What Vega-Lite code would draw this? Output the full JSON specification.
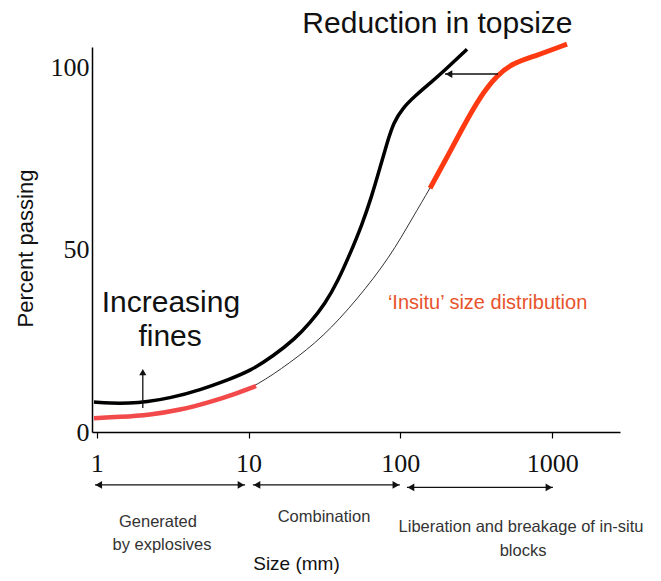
{
  "$schema": "https://vega.github.io/schema/vega-lite/v6.json",
  "autosize": "none",
  "width": 528,
  "height": 385,
  "padding": {"left": 92, "top": 47, "right": 41, "bottom": 149},
  "background": "white",
  "config": {"view": {"stroke": null}},
  "datasets": {
    "curves": [
      {"series": "Blasted", "size": 0.958, "pct": 8.2},
      {"series": "Blasted", "size": 1.22, "pct": 7.9},
      {"series": "Blasted", "size": 1.65, "pct": 7.9},
      {"series": "Blasted", "size": 2.11, "pct": 8.2},
      {"series": "Blasted", "size": 3.04, "pct": 9.3},
      {"series": "Blasted", "size": 4.79, "pct": 11.5},
      {"series": "Blasted", "size": 7.53, "pct": 14.5},
      {"series": "Blasted", "size": 10.2, "pct": 16.7},
      {"series": "Blasted", "size": 14.5, "pct": 20.8},
      {"series": "Blasted", "size": 20.2, "pct": 25.5},
      {"series": "Blasted", "size": 25.4, "pct": 29.9},
      {"series": "Blasted", "size": 31.9, "pct": 35.1},
      {"series": "Blasted", "size": 38.8, "pct": 41.4},
      {"series": "Blasted", "size": 46.6, "pct": 48.8},
      {"series": "Blasted", "size": 55.8, "pct": 56.7},
      {"series": "Blasted", "size": 64.9, "pct": 64.7},
      {"series": "Blasted", "size": 73.3, "pct": 72.3},
      {"series": "Blasted", "size": 81.7, "pct": 79.2},
      {"series": "Blasted", "size": 90.4, "pct": 84.9},
      {"series": "Blasted", "size": 103.8, "pct": 88.8},
      {"series": "Blasted", "size": 125, "pct": 92.1},
      {"series": "Blasted", "size": 157, "pct": 95.6},
      {"series": "Blasted", "size": 197, "pct": 99.2},
      {"series": "Blasted", "size": 275, "pct": 104.9},
      {"series": "Insitu", "size": 0.958, "pct": 3.8},
      {"series": "Insitu", "size": 1.42, "pct": 4.1},
      {"series": "Insitu", "size": 2.24, "pct": 4.7},
      {"series": "Insitu", "size": 3.53, "pct": 6.0},
      {"series": "Insitu", "size": 5.57, "pct": 8.2},
      {"series": "Insitu", "size": 8.13, "pct": 10.4},
      {"series": "Insitu", "size": 11.2, "pct": 12.6},
      {"series": "Insitu", "size": 18.7, "pct": 18.9},
      {"series": "Insitu", "size": 30.9, "pct": 26.0},
      {"series": "Insitu", "size": 51.7, "pct": 36.2},
      {"series": "Insitu", "size": 85.3, "pct": 47.9},
      {"series": "Insitu", "size": 121, "pct": 58.9},
      {"series": "Insitu", "size": 157, "pct": 66.8},
      {"series": "Insitu", "size": 203, "pct": 75.3},
      {"series": "Insitu", "size": 259, "pct": 83.6},
      {"series": "Insitu", "size": 334, "pct": 91.8},
      {"series": "Insitu", "size": 433, "pct": 97.8},
      {"series": "Insitu", "size": 552, "pct": 101.1},
      {"series": "Insitu", "size": 794, "pct": 103.2},
      {"series": "Insitu", "size": 1253, "pct": 106.3}
    ],
    "arrows": [
      {"x1": 440, "x2": 197, "y1": 98.1, "y2": 98.1},
      {"x1": 2.01, "x2": 2.01, "y1": 6.6, "y2": 16.5},
      {"x1": 0.973, "x2": 9.49, "y1": -14.5, "y2": -14.5},
      {"x1": 10.68, "x2": 99.3, "y1": -14.5, "y2": -14.5},
      {"x1": 110.5, "x2": 1012, "y1": -15.2, "y2": -15.2}
    ],
    "heads": [
      {"x": 209, "y": 98.1, "dir": "left"},
      {"x": 2.01, "y": 16.4, "dir": "up"},
      {"x": 1.03, "y": -14.5, "dir": "left"},
      {"x": 8.92, "y": -14.5, "dir": "right"},
      {"x": 11.36, "y": -14.5, "dir": "left"},
      {"x": 93.5, "y": -14.5, "dir": "right"},
      {"x": 117.5, "y": -15.2, "dir": "left"},
      {"x": 953, "y": -15.2, "dir": "right"}
    ],
    "bigText": [
      {"label": "Reduction in topsize", "x": 175.5, "y": 111.8},
      {"label": "Increasing", "x": 3.08, "y": 35.3},
      {"label": "fines", "x": 3.04, "y": 26.0}
    ],
    "smallText": [
      {"label": "Generated", "x": 2.53, "y": -24.7},
      {"label": "by explosives", "x": 2.69, "y": -31.0},
      {"label": "Combination", "x": 31.4, "y": -23.3},
      {"label": "Liberation and breakage of in-situ", "x": 624, "y": -26.0},
      {"label": "blocks", "x": 643, "y": -32.6}
    ],
    "insituText": [
      {"label": "‘Insitu’ size distribution", "x": 82.8, "y": 35.3}
    ]
  },
  "layer": [
    {
      "data": {"name": "curves"},
      "transform": [{"filter": "datum.series === 'Blasted'"}],
      "mark": {"type": "line", "interpolate": "basis", "color": "black", "strokeWidth": 3.5},
      "encoding": {
        "x": {
          "field": "size", "type": "quantitative",
          "scale": {"type": "log", "domain": [0.93, 2800], "nice": false},
          "axis": {
            "values": [1, 10, 100, 1000], "format": "d", "grid": false,
            "title": "Size (mm)", "titleFont": "Liberation Sans", "titleFontSize": 19, "titleFontWeight": "normal", "titleColor": "#111",
            "titleX": 204, "titleY": 131, "titleBaseline": "middle",
            "labelFont": "Liberation Serif", "labelFontSize": 26, "labelColor": "#111", "labelPadding": 12, "labelDx": 9,
            "domainColor": "black", "domainWidth": 1.5, "tickColor": "black", "tickSize": 6, "tickWidth": 1.2
          }
        },
        "y": {
          "field": "pct", "type": "quantitative",
          "scale": {"domain": [0, 105.5], "nice": false, "zero": true},
          "axis": {
            "values": [0, 50, 100], "grid": false, "ticks": false,
            "title": "Percent passing", "titleFont": "Liberation Sans", "titleFontSize": 22, "titleFontWeight": "normal", "titleColor": "#111",
            "titleX": -67, "titleY": 201, "titleBaseline": "middle", "titleAlign": "center",
            "labelFont": "Liberation Serif", "labelFontSize": 26, "labelColor": "#111", "labelPadding": 3,
            "domainColor": "black", "domainWidth": 1.5
          }
        }
      }
    },
    {
      "data": {"name": "curves"},
      "transform": [{"filter": "datum.series === 'Insitu'"}],
      "mark": {"type": "line", "interpolate": "basis", "color": "#333", "strokeWidth": 1},
      "encoding": {"x": {"field": "size", "type": "quantitative"}, "y": {"field": "pct", "type": "quantitative"}}
    },
    {
      "data": {"name": "curves"},
      "transform": [{"filter": "datum.series === 'Insitu' && datum.size <= 11.2"}],
      "mark": {"type": "line", "interpolate": "basis", "color": "#f24a4a", "strokeWidth": 4.5},
      "encoding": {"x": {"field": "size", "type": "quantitative"}, "y": {"field": "pct", "type": "quantitative"}}
    },
    {
      "data": {"name": "curves"},
      "transform": [{"filter": "datum.series === 'Insitu' && datum.size >= 157"}],
      "mark": {"type": "line", "interpolate": "basis", "color": "#ff3a12", "strokeWidth": 5},
      "encoding": {"x": {"field": "size", "type": "quantitative"}, "y": {"field": "pct", "type": "quantitative"}}
    },
    {
      "data": {"name": "arrows"},
      "mark": {"type": "rule", "color": "#111", "strokeWidth": 1.3},
      "encoding": {
        "x": {"field": "x1", "type": "quantitative"},
        "x2": {"field": "x2"},
        "y": {"field": "y1", "type": "quantitative"},
        "y2": {"field": "y2"}
      }
    },
    {
      "data": {"name": "heads"},
      "transform": [{"filter": "datum.dir === 'left'"}],
      "mark": {"type": "point", "shape": "triangle-left", "filled": true, "color": "#111", "size": 60, "opacity": 1},
      "encoding": {"x": {"field": "x", "type": "quantitative"}, "y": {"field": "y", "type": "quantitative"}}
    },
    {
      "data": {"name": "heads"},
      "transform": [{"filter": "datum.dir === 'right'"}],
      "mark": {"type": "point", "shape": "triangle-right", "filled": true, "color": "#111", "size": 60, "opacity": 1},
      "encoding": {"x": {"field": "x", "type": "quantitative"}, "y": {"field": "y", "type": "quantitative"}}
    },
    {
      "data": {"name": "heads"},
      "transform": [{"filter": "datum.dir === 'up'"}],
      "mark": {"type": "point", "shape": "triangle-up", "filled": true, "color": "#111", "size": 50, "opacity": 1},
      "encoding": {"x": {"field": "x", "type": "quantitative"}, "y": {"field": "y", "type": "quantitative"}}
    },
    {
      "data": {"name": "bigText"},
      "mark": {"type": "text", "font": "Liberation Sans", "fontSize": 30, "color": "#111", "align": "center", "baseline": "middle"},
      "encoding": {"x": {"field": "x", "type": "quantitative"}, "y": {"field": "y", "type": "quantitative"}, "text": {"field": "label"}}
    },
    {
      "data": {"name": "smallText"},
      "mark": {"type": "text", "font": "Liberation Sans", "fontSize": 16.5, "color": "#333", "align": "center", "baseline": "middle"},
      "encoding": {"x": {"field": "x", "type": "quantitative"}, "y": {"field": "y", "type": "quantitative"}, "text": {"field": "label"}}
    },
    {
      "data": {"name": "insituText"},
      "mark": {"type": "text", "font": "Liberation Sans", "fontSize": 20, "color": "#e8532c", "align": "left", "baseline": "middle"},
      "encoding": {"x": {"field": "x", "type": "quantitative"}, "y": {"field": "y", "type": "quantitative"}, "text": {"field": "label"}}
    }
  ]
}
